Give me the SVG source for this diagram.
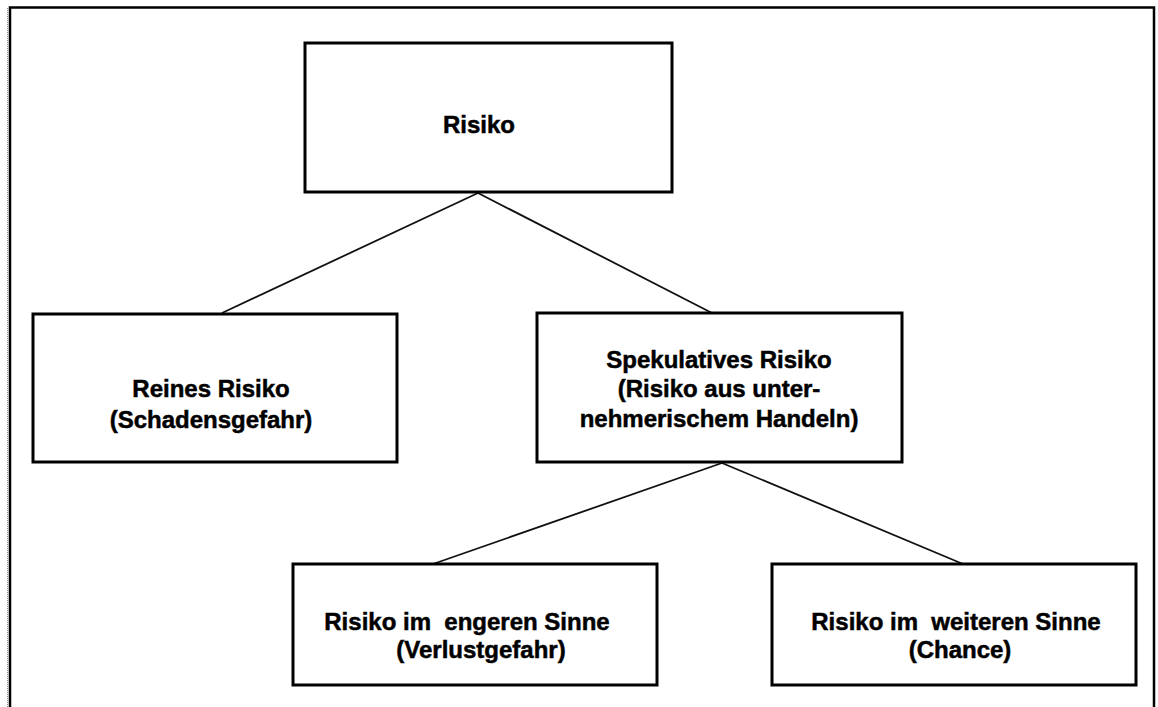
<svg xmlns="http://www.w3.org/2000/svg" width="1158" height="707" viewBox="0 0 1158 707">
  <style>
    .box { fill: #ffffff; stroke: #000000; stroke-width: 3; }
    .link { stroke: #111111; stroke-width: 1.8; fill: none; }
    .label { font-family: "Liberation Sans", Arial, sans-serif; font-weight: bold; font-size: 24px; fill: #000000; stroke: #000000; stroke-width: 0.5; text-anchor: middle; white-space: pre; }
    .frame { stroke: #000000; stroke-width: 2.5; fill: none; }
  </style>
  <rect width="1158" height="707" fill="#ffffff"/>

  <!-- outer frame, open at the bottom -->
  <g id="frame">
    <path class="frame" d="M10,707 L10,7.5 L1154,7.5 L1154,707"/>
    <line x1="7.5" y1="8" x2="7.5" y2="707" stroke="#888888" stroke-width="1" stroke-dasharray="1 1"/>
  </g>

  <!-- connectors -->
  <g id="connectors">
    <line class="link" x1="478" y1="193" x2="222" y2="313"/>
    <line class="link" x1="478" y1="193" x2="712" y2="313"/>
    <line class="link" x1="722" y1="463" x2="433" y2="564"/>
    <line class="link" x1="722" y1="463" x2="963" y2="564"/>
  </g>

  <g id="node-risiko">
    <rect class="box" x="305" y="43" width="367" height="149"/>
    <text class="label" x="479" y="133">Risiko</text>
  </g>

  <g id="node-reines">
    <rect class="box" x="33" y="314" width="364" height="148"/>
    <text class="label" x="211" y="397">Reines Risiko</text>
    <text class="label" x="211" y="428">(Schadensgefahr)</text>
  </g>

  <g id="node-spekulativ">
    <rect class="box" x="537" y="313" width="365" height="149"/>
    <text class="label" x="719" y="368">Spekulatives Risiko</text>
    <text class="label" x="719" y="397">(Risiko aus unter-</text>
    <text class="label" x="719" y="427">nehmerischem Handeln)</text>
  </g>

  <g id="node-eng">
    <rect class="box" x="293" y="564" width="364" height="121"/>
    <text class="label" x="467" y="630">Risiko im  engeren Sinne</text>
    <text class="label" x="481" y="658">(Verlustgefahr)</text>
  </g>

  <g id="node-weit">
    <rect class="box" x="772" y="564" width="364" height="121"/>
    <text class="label" x="956" y="630">Risiko im  weiteren Sinne</text>
    <text class="label" x="960" y="658">(Chance)</text>
  </g>
</svg>
